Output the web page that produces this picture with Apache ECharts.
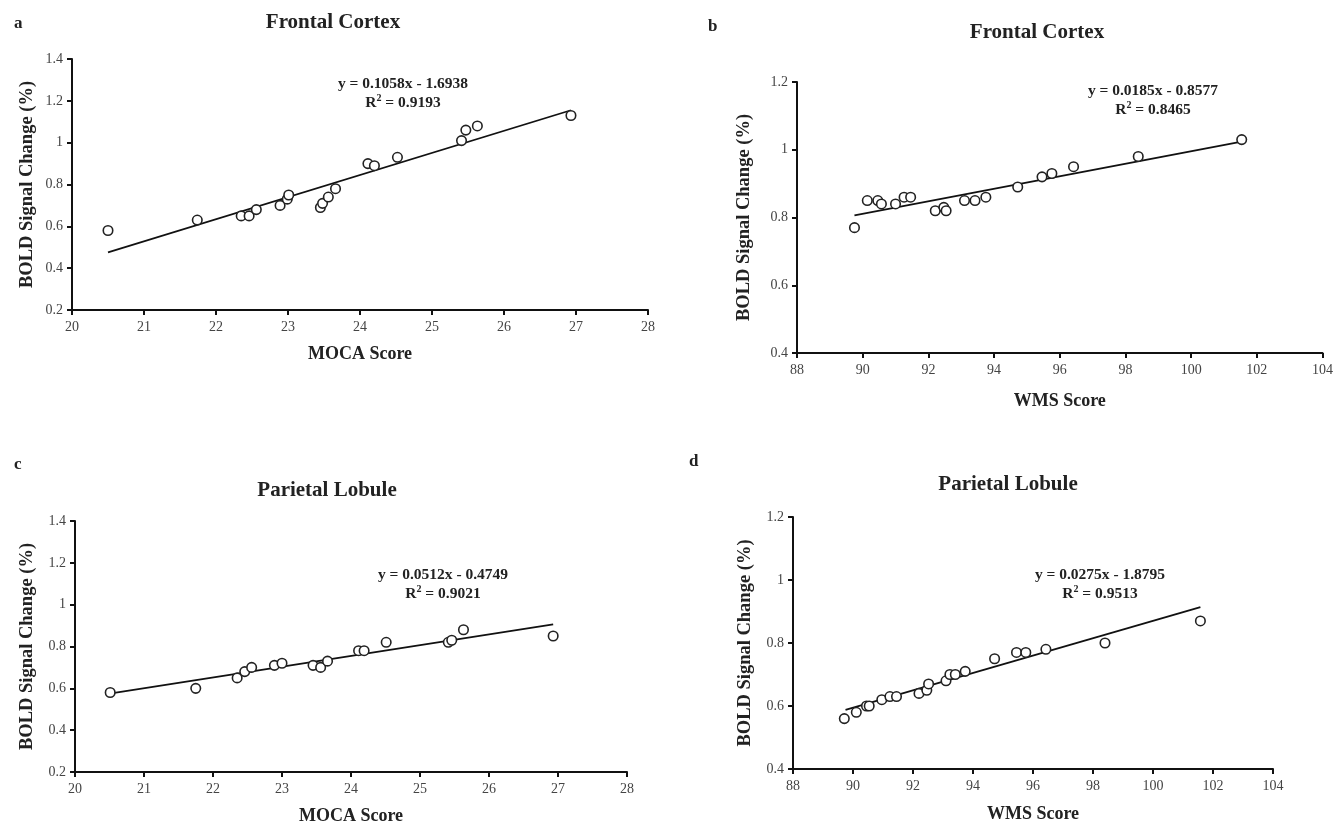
<!DOCTYPE html>
<html>
<head>
<meta charset="utf-8">
<script src="https://cdn.jsdelivr.net/npm/echarts@6/dist/echarts.min.js"></script>
<style>
html,body{margin:0;padding:0;background:#fff;}
#chart{width:1336px;height:826px;}
</style>
</head>
<body>
<div id="chart"></div>
<script>
// ---- Data ----
const mocaA = [20.5, 21.74, 22.35, 22.46, 22.56, 22.89, 22.99, 23.01, 23.45, 23.48, 23.56, 23.66, 24.11, 24.2, 24.52, 25.41, 25.47, 25.63, 26.93];
const boldA = [0.58, 0.63, 0.65, 0.65, 0.68, 0.70, 0.73, 0.75, 0.69, 0.71, 0.74, 0.78, 0.90, 0.89, 0.93, 1.01, 1.06, 1.08, 1.13];
const trendA = [[20.5, 0.475], [26.93, 1.155]];

const wmsB = [89.75, 90.14, 90.46, 90.57, 91.0, 91.26, 91.46, 92.21, 92.47, 92.54, 93.1, 93.42, 93.75, 94.72, 95.46, 95.76, 96.42, 98.39, 101.54];
const boldB = [0.77, 0.85, 0.85, 0.84, 0.84, 0.86, 0.86, 0.82, 0.83, 0.82, 0.85, 0.85, 0.86, 0.89, 0.92, 0.93, 0.95, 0.98, 1.03];
const trendB = [[89.75, 0.806], [101.54, 1.024]];

const mocaC = [20.51, 21.75, 22.35, 22.46, 22.56, 22.89, 23.0, 23.45, 23.56, 23.66, 24.11, 24.19, 24.51, 25.41, 25.46, 25.63, 26.93];
const boldC = [0.58, 0.60, 0.65, 0.68, 0.70, 0.71, 0.72, 0.71, 0.70, 0.73, 0.78, 0.78, 0.82, 0.82, 0.83, 0.88, 0.85];
const trendC = [[20.5, 0.575], [26.93, 0.906]];

const wmsD = [89.71, 90.11, 90.45, 90.54, 90.96, 91.23, 91.45, 92.2, 92.46, 92.52, 93.1, 93.23, 93.41, 93.74, 94.72, 95.45, 95.76, 96.43, 98.4, 101.58];
const boldD = [0.56, 0.58, 0.60, 0.60, 0.62, 0.63, 0.63, 0.64, 0.65, 0.67, 0.68, 0.70, 0.70, 0.71, 0.75, 0.77, 0.77, 0.78, 0.80, 0.87];
const trendD = [[89.75, 0.588], [101.58, 0.914]];

const panelLetters = ['a', 'b', 'c', 'd'];
const panelTitles = ['Frontal Cortex', 'Frontal Cortex', 'Parietal Lobule', 'Parietal Lobule'];
const equations = ['y = 0.1058x - 1.6938', 'y = 0.0185x - 0.8577', 'y = 0.0512x - 0.4749', 'y = 0.0275x - 1.8795'];
const r2Values = ['0.9193', '0.8465', '0.9021', '0.9513'];
const xNames = ['MOCA Score', 'WMS Score', 'MOCA Score', 'WMS Score'];
const yName = 'BOLD Signal Change (%)';

// ---- Layout ----
const serif = '"Liberation Serif", "DejaVu Serif", serif';
const grids = [
  {left: 72, top: 59, width: 576, height: 251},
  {left: 797, top: 82, width: 528, height: 271},
  {left: 75, top: 521, width: 552, height: 251},
  {left: 793, top: 517, width: 480, height: 252}
];
const xRanges = [[20, 28, 1], [88, 104, 2], [20, 28, 1], [88, 104, 2]];
const yRanges = [[0.2, 1.4, 0.2], [0.4, 1.2, 0.2], [0.2, 1.4, 0.2], [0.4, 1.2, 0.2]];
const xNameGaps = [35, 39, 35, 36];
const yNameGaps = [35, 43, 38, 38];
const letterPos = [[9, 10], [703, 13], [9, 451], [684, 448]];
const titlePos = [[328, 7], [1032, 17], [322, 475], [1003, 469]];
const eqPos = [[398, 69], [1148, 76], [438, 560], [1095, 560]];

const xAxes = xRanges.map((r, i) => ({
  gridIndex: i, type: 'value', min: r[0], max: r[1], interval: r[2],
  name: xNames[i], nameLocation: 'middle', nameGap: xNameGaps[i],
  nameTextStyle: {fontFamily: serif, fontWeight: 'bold', fontSize: 18, color: '#222'},
  axisLine: {lineStyle: {color: '#111', width: 2}},
  axisTick: {show: true, length: 5, lineStyle: {color: '#111', width: 2}},
  axisLabel: {fontFamily: serif, fontSize: 14, color: '#444', margin: 10},
  splitLine: {show: false}
}));
const yAxes = yRanges.map((r, i) => ({
  gridIndex: i, type: 'value', min: r[0], max: r[1], interval: r[2],
  name: yName, nameLocation: 'middle', nameGap: yNameGaps[i], nameRotate: 90,
  nameTextStyle: {fontFamily: serif, fontWeight: 'bold', fontSize: 18.5, color: '#222'},
  axisLine: {show: true, lineStyle: {color: '#111', width: 2}},
  axisTick: {show: true, length: 5, lineStyle: {color: '#111', width: 2}},
  axisLabel: {fontFamily: serif, fontSize: 14, color: '#444', margin: 9},
  splitLine: {show: false}
}));

const scatterSets = [[mocaA, boldA], [wmsB, boldB], [mocaC, boldC], [wmsD, boldD]];
const trends = [trendA, trendB, trendC, trendD];
const series = [];
trends.forEach((t, i) => {
  series.push({
    type: 'line', xAxisIndex: i, yAxisIndex: i, data: t, showSymbol: false,
    lineStyle: {color: '#111', width: 1.8}, z: 2, silent: true
  });
});
scatterSets.forEach((s, i) => {
  series.push({
    type: 'scatter', xAxisIndex: i, yAxisIndex: i,
    data: s[0].map((x, k) => [x, s[1][k]]),
    symbol: 'circle', symbolSize: 9.5,
    itemStyle: {color: '#fff', borderColor: '#222', borderWidth: 1.6, opacity: 1},
    z: 3
  });
});

const titles = [];
panelLetters.forEach((l, i) => titles.push({
  text: l, left: letterPos[i][0], top: letterPos[i][1],
  textStyle: {fontFamily: serif, fontWeight: 'bold', fontSize: 17, color: '#222'}
}));
panelTitles.forEach((t, i) => titles.push({
  text: t, left: titlePos[i][0], top: titlePos[i][1], textAlign: 'center',
  textStyle: {fontFamily: serif, fontWeight: 'bold', fontSize: 21, color: '#222'}
}));
equations.forEach((e, i) => titles.push({
  text: e + '\n{r|R}{s|2}{r| = ' + r2Values[i] + '}', left: eqPos[i][0], top: eqPos[i][1], textAlign: 'center',
  textStyle: {fontFamily: serif, fontWeight: 'bold', fontSize: 15.5, color: '#222', lineHeight: 19,
    rich: {
      r: {fontFamily: serif, fontWeight: 'bold', fontSize: 15.5, color: '#222', lineHeight: 19},
      s: {fontFamily: serif, fontWeight: 'bold', fontSize: 10, color: '#222', verticalAlign: 'top', lineHeight: 19, padding: [0, 0, 7, 0]}
    }
  }
}));

const chart = echarts.init(document.getElementById('chart'), null, {renderer: 'canvas'});
chart.setOption({
  backgroundColor: '#fff',
  animation: false,
  title: titles,
  grid: grids,
  xAxis: xAxes,
  yAxis: yAxes,
  series: series
});
</script>
</body>
</html>
